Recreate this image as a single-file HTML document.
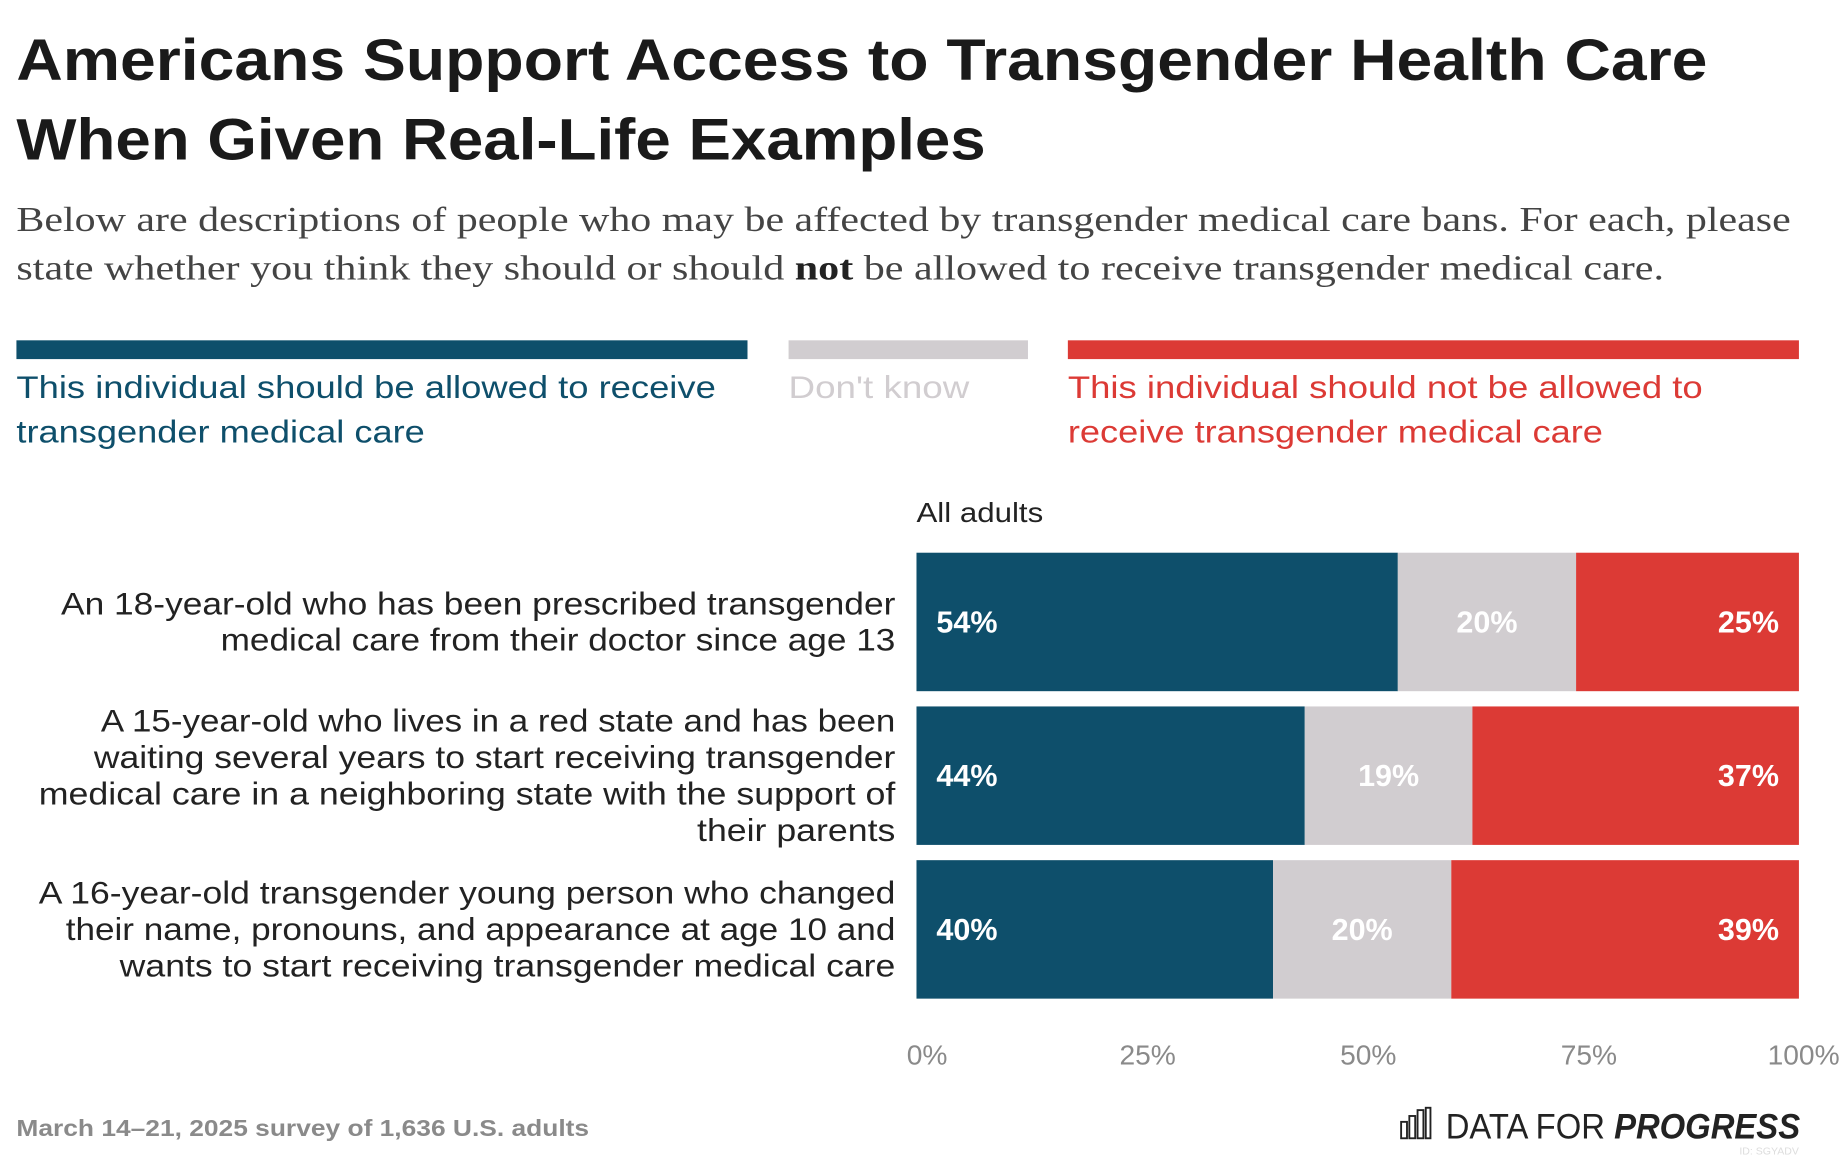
<!DOCTYPE html>
<html><head><meta charset="utf-8">
<style>
html,body{margin:0;padding:0;background:#fff;}
svg{display:block;}
text{font-family:"Liberation Sans",sans-serif;}
.serif{font-family:"Liberation Serif",serif;}
</style></head>
<body>
<svg id="chart" width="1840" height="1160" viewBox="0 0 1568 988.5" xmlns="http://www.w3.org/2000/svg">
<rect width="1568" height="988.5" fill="#fff"/>
<g font-weight="bold" font-size="50" fill="#1a1a1a">
<text x="14" y="68" textLength="1441" lengthAdjust="spacingAndGlyphs">Americans Support Access to Transgender Health Care</text>
<text x="14" y="136" textLength="826" lengthAdjust="spacingAndGlyphs">When Given Real-Life Examples</text>
</g>
<g class="serif" font-size="30" fill="#444">
<text class="serif" x="14" y="197" textLength="1512" lengthAdjust="spacingAndGlyphs">Below are descriptions of people who may be affected by transgender medical care bans. For each, please</text>
<text class="serif" x="14" y="238" textLength="1404" lengthAdjust="spacingAndGlyphs">state whether you think they should or should <tspan font-weight="bold" fill="#222">not</tspan> be allowed to receive transgender medical care.</text>
</g>
<g font-size="27">
<rect x="14" y="290" width="623" height="16" fill="#0e4f6b"/>
<rect x="672" y="290" width="204" height="16" fill="#d1cdd0"/>
<rect x="910" y="290" width="623" height="16" fill="#dc3a35"/>
<text fill="#0e4f6b"><tspan x="14" y="339" textLength="596" lengthAdjust="spacingAndGlyphs">This individual should be allowed to receive</tspan><tspan x="14" y="377" textLength="348" lengthAdjust="spacingAndGlyphs">transgender medical care</tspan></text>
<text fill="#d1cdd0" x="672" y="339" textLength="154" lengthAdjust="spacingAndGlyphs">Don't know</text>
<text fill="#dc3a35"><tspan x="910" y="339" textLength="541" lengthAdjust="spacingAndGlyphs">This individual should not be allowed to</tspan><tspan x="910" y="377" textLength="456" lengthAdjust="spacingAndGlyphs">receive transgender medical care</tspan></text>
</g>
<text x="781" y="445" font-size="24" fill="#222" textLength="108" lengthAdjust="spacingAndGlyphs">All adults</text>
<g id="labels" font-size="27" fill="#222" text-anchor="end"></g>
<g id="bars"></g>
<g id="xaxis" font-size="24" fill="#8a8a8a" text-anchor="middle"></g>
<text x="14" y="968" font-size="20" font-weight="bold" fill="#8a8a8a" textLength="488" lengthAdjust="spacingAndGlyphs">March 14–21, 2025 survey of 1,636 U.S. adults</text>
<g>
<g fill="none" stroke="#222" stroke-width="1.6">
<rect x="1194" y="956" width="5" height="14"/><rect x="1201" y="951" width="5" height="19"/><rect x="1208" y="946" width="5" height="24"/><rect x="1215" y="944" width="4" height="26"/>
</g>
<text x="1232" y="970" font-size="30" fill="#222" textLength="302" lengthAdjust="spacingAndGlyphs">DATA FOR <tspan font-weight="bold" font-style="italic">PROGRESS</tspan></text>
<text x="1533" y="984" font-size="9" fill="#ddd" text-anchor="end">ID: SGYADV</text>
</g>
</svg>
<script>
const categories = [
  ["An 18-year-old who has been prescribed transgender","medical care from their doctor since age 13"],
  ["A 15-year-old who lives in a red state and has been","waiting several years to start receiving transgender","medical care in a neighboring state with the support of","their parents"],
  ["A 16-year-old transgender young person who changed","their name, pronouns, and appearance at age 10 and","wants to start receiving transgender medical care"]
];
const labelLeftEdges = [[52,188],[86,80,33,594],[33,56,102]];
const allowed = [54, 44, 40];
const dontKnow = [20, 19, 20];
const notAllowed = [25, 37, 39];
const tickValues = [0, 25, 50, 75, 100];
const tickLabels = ["0%", "25%", "50%", "75%", "100%"];

const NS = "http://www.w3.org/2000/svg";
const X0 = 781, W = 752, Y0 = 471, BH = 118, STEP = 131;
const xScale = p => X0 + W * p / 100;
const yScale = i => Y0 + i * STEP;
const colors = ["#0e4f6b", "#d1cdd0", "#dc3a35"];
const segNames = ["allowed", "dont-know", "not-allowed"];
const bars = document.getElementById("bars");
const labels = document.getElementById("labels");
const xaxis = document.getElementById("xaxis");

categories.forEach((lines, i) => {
  const y = yScale(i);
  const vals = [allowed[i], dontKnow[i], notAllowed[i]];
  const total = vals[0] + vals[1] + vals[2];
  let cum = 0;
  vals.forEach((v, k) => {
    const x1 = xScale(cum / total * 100);
    const x2 = xScale((cum + v) / total * 100);
    cum += v;
    const r = document.createElementNS(NS, "rect");
    r.setAttribute("x", x1); r.setAttribute("y", y);
    r.setAttribute("width", x2 - x1); r.setAttribute("height", BH);
    r.setAttribute("fill", colors[k]);
    
    
    bars.appendChild(r);
    const t = document.createElementNS(NS, "text");
    t.textContent = v + "%";
    t.setAttribute("y", y + BH / 2 + 9);
    t.setAttribute("font-size", "26");
    t.setAttribute("font-weight", "bold");
    t.setAttribute("fill", "#fff");
    if (k === 0) { t.setAttribute("x", x1 + 17); }
    else if (k === 1) { t.setAttribute("x", (x1 + x2) / 2); t.setAttribute("text-anchor", "middle"); }
    else { t.setAttribute("x", x2 - 17); t.setAttribute("text-anchor", "end"); }
    
    
    bars.appendChild(t);
  });
  const lh = 31;
  const startY = y + BH / 2 - (lines.length - 1) * lh / 2 + 9;
  const lt = document.createElementNS(NS, "text");
  
  
  lines.forEach((ln, j) => {
    const ts = document.createElementNS(NS, "tspan");
    ts.setAttribute("x", 763);
    ts.setAttribute("y", startY + j * lh);
    ts.setAttribute("textLength", 763 - labelLeftEdges[i][j]);
    ts.setAttribute("lengthAdjust", "spacingAndGlyphs");
    ts.textContent = ln;
    lt.appendChild(ts);
  });
  labels.appendChild(lt);
});

tickValues.forEach((v, i) => {
  const t = document.createElementNS(NS, "text");
  let x = xScale(v) + (v === 100 ? 4 : 9);
  t.setAttribute("x", x);
  t.setAttribute("y", 907);
  t.textContent = tickLabels[i];
  
  
  xaxis.appendChild(t);
});
</script>
</body></html>
